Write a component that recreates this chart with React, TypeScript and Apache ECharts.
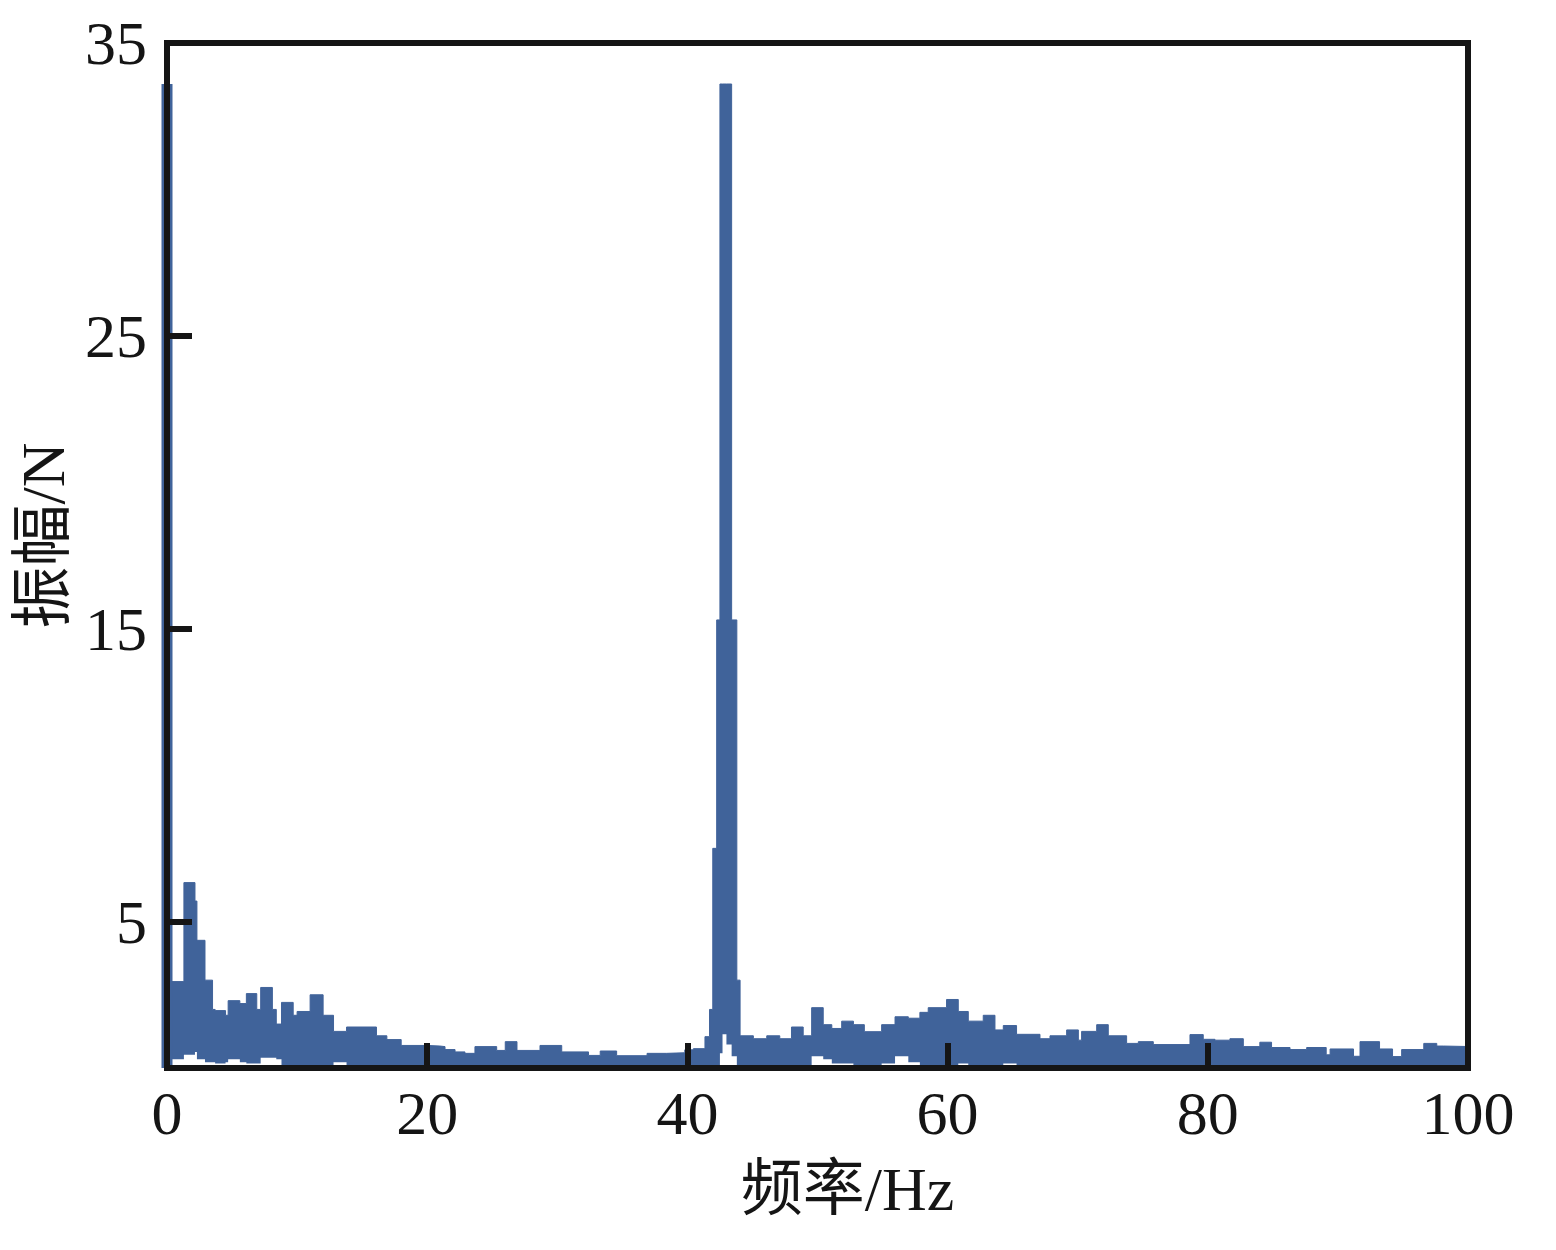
import React, { useEffect, useRef } from "react";
import * as echarts from "echarts";

// Frequency breakpoints (Hz); each value holds until the next breakpoint
const freq = [
  0, 1.3, 2.15, 2.3, 2.92, 3.5, 3.7, 4.5, 4.7, 5.6, 6.1, 6.9, 7.2, 8.1, 8.4, 8.8, 9.7, 10.0, 11.0, 12.0,
  12.8, 13.8, 16.1, 16.9, 18.0, 20.0, 20.98, 21.37, 22.14, 22.9, 23.67, 25.34, 26.0, 26.9, 28.67, 30.34,
  32.4, 33.3, 34.56, 36.9, 38.4, 39.8, 40.46, 41.35, 41.7, 41.95, 42.25, 42.5, 42.7, 43.0, 43.4, 43.8,
  44.05, 45.07, 46.1, 47.1, 48.0, 48.9, 49.55, 50.44, 51.1, 51.86, 52.76, 53.6, 54.93, 55.96, 56.98,
  57.87, 58.51, 59.92, 60.82, 61.59, 62.74, 63.64, 64.28, 65.3, 67.1, 67.87, 69.15, 70.05, 70.3, 71.46,
  72.35, 73.76, 74.66, 75.81, 78.63, 79.65, 80.55, 81.7, 82.73, 84.0, 84.9, 86.32, 87.6, 89.1, 89.4,
  91.2, 91.7, 93.2, 94.2, 94.9, 96.6, 97.6, 98.1, 100.45,
];

// Upper envelope of the amplitude (N)
const upper = [
  2.95, 6.33, 5.7, 4.36, 3.0, 2.0, 1.96, 1.8, 2.3, 2.2, 2.54, 2.0, 2.75, 2.0, 1.5, 2.24, 1.8, 1.93, 2.5, 1.8,
  1.25, 1.4, 1.1, 0.97, 0.77, 0.75, 0.73, 0.63, 0.55, 0.5, 0.73, 0.6, 0.9, 0.6, 0.77, 0.55,
  0.43, 0.58, 0.42, 0.5, 0.52, 0.62, 0.66, 1.07, 2.0, 7.5, 15.3, 33.6, 33.6, 33.6, 15.3, 3.0,
  1.1, 1.0, 1.1, 1.0, 1.4, 1.1, 2.06, 1.48, 1.35, 1.6, 1.48, 1.24, 1.48, 1.75, 1.7,
  1.9, 2.06, 2.34, 1.93, 1.6, 1.8, 1.3, 1.45, 1.15, 1.0, 1.1, 1.3, 0.95, 1.25, 1.48,
  1.1, 0.84, 0.9, 0.8, 1.14, 0.98, 0.95, 1.0, 0.73, 0.88, 0.7, 0.63, 0.7, 0.45, 0.65,
  0.4, 0.9, 0.65, 0.39, 0.63, 0.84, 0.75, 0.73, 0.73,
];

// Lower envelope of the amplitude (N)
const lower = [
  0.3, 0.45, 0.55, 0.3, 0.2, 0.2, 0.15, 0.2, 0.3, 0.2, 0.15, 0.15, 0.35, 0.35, 0.3, 0.1, 0.1, 0.1, 0.1, 0.1,
  0.2, 0.1, 0.05, 0.05, 0.05, 0.05, 0.05, 0.05, 0.05, 0.05, 0.05, 0.05, 0.05, 0.05, 0.05, 0.05,
  0.05, 0.05, 0.05, 0.05, 0.05, 0.05, 0.05, 0.05, 0.05, 0.05, 0.05, 0.5, 1.15, 0.8, 0.4, 0.1,
  0.1, 0.1, 0.1, 0.1, 0.1, 0.1, 0.4, 0.3, 0.15, 0.15, 0.1, 0.1, 0.15, 0.4, 0.2,
  0.1, 0.1, 0.1, 0.15, 0.1, 0.1, 0.1, 0.15, 0.1, 0.05, 0.05, 0.05, 0.05, 0.05, 0.05,
  0.05, 0.05, 0.05, 0.05, 0.05, 0.05, 0.05, 0.05, 0.05, 0.05, 0.05, 0.05, 0.05, 0.05, 0.05,
  0.05, 0.05, 0.05, 0.05, 0.05, 0.05, 0.05, 0.05, 0.05,
];

// DC component spike at 0 Hz
const spikeFreq = 0;
const spikeValue = 33.6;

const xTicks = [20, 40, 60, 80];
const xLabels = [0, 20, 40, 60, 80, 100];
const yTicks = [5, 15, 25];
const yLabels = [5, 15, 25, 35];

const BLUE = "#40639A";
const INK = "#151515";
const SERIF = '"Liberation Serif", "Times New Roman", "Noto Sans CJK SC", serif';

export default function App() {
  const ref = useRef<HTMLDivElement>(null);

  useEffect(() => {
    if (!ref.current) return;
    const chart = echarts.init(ref.current, null, { renderer: "svg" });

    const upperData = freq.map((f, i) => [f, upper[i]]);
    const lowerData = freq.map((f, i) => [f, lower[i]]);

    chart.setOption({
      animation: false,
      backgroundColor: "#ffffff",
      grid: {
        left: 167,
        right: 88,
        top: 43,
        bottom: 182,
        show: true,
        borderColor: INK,
        borderWidth: 6,
        backgroundColor: "transparent",
        z: 9,
        outerBoundsMode: "none",
      },
      xAxis: {
        type: "value",
        min: 0,
        max: 100,
        interval: 20,
        z: 10,
        splitLine: { show: false },
        axisLine: { show: true, onZero: false, lineStyle: { color: INK, width: 6 } },
        axisTick: {
          show: true,
          inside: true,
          length: 25,
          customValues: xTicks,
          lineStyle: { color: INK, width: 6 },
        },
        axisLabel: {
          customValues: xLabels,
          fontSize: 62,
          fontFamily: SERIF,
          color: INK,
          margin: 14,
        },
        name: "频率/Hz",
        nameLocation: "middle",
        nameGap: 90,
        nameTextStyle: {
          fontSize: 62,
          fontFamily: SERIF,
          color: INK,
          padding: [0, 0, 0, 60],
        },
      },
      yAxis: {
        type: "value",
        min: 0,
        max: 35,
        interval: 5,
        z: 10,
        splitLine: { show: false },
        axisLine: { show: true, onZero: false, lineStyle: { color: INK, width: 6 } },
        axisTick: {
          show: true,
          inside: true,
          length: 25,
          customValues: yTicks,
          lineStyle: { color: INK, width: 6 },
        },
        axisLabel: {
          customValues: yLabels,
          fontSize: 62,
          fontFamily: SERIF,
          color: INK,
          margin: 20,
        },
        name: "振幅/N",
        nameLocation: "middle",
        nameGap: 83,
        nameTextStyle: {
          fontSize: 62,
          fontFamily: SERIF,
          color: INK,
          padding: [0, 0, 0, 40],
        },
      },
      series: [
        {
          type: "line",
          name: "upper",
          data: upperData,
          step: "end",
          symbol: "none",
          clip: false,
          lineStyle: { width: 1, color: BLUE },
          itemStyle: { color: BLUE },
          areaStyle: { color: BLUE, opacity: 1 },
          silent: true,
          z: 2,
        },
        {
          type: "line",
          name: "lower",
          data: lowerData,
          step: "end",
          symbol: "none",
          clip: false,
          lineStyle: { width: 0, opacity: 0 },
          itemStyle: { color: "#ffffff" },
          areaStyle: { color: "#ffffff", opacity: 1 },
          silent: true,
          z: 3,
        },
        {
          type: "line",
          name: "dc",
          data: [
            [spikeFreq, 0],
            [spikeFreq, spikeValue],
          ],
          symbol: "none",
          clip: false,
          lineStyle: { width: 11, color: BLUE, cap: "butt" },
          silent: true,
          z: 4,
        },
      ],
    });

    return () => chart.dispose();
  }, []);

  return (
    <div
      ref={ref}
      style={{ position: "fixed", left: 0, top: 0, width: 1556, height: 1250, background: "#fff" }}
    />
  );
}
